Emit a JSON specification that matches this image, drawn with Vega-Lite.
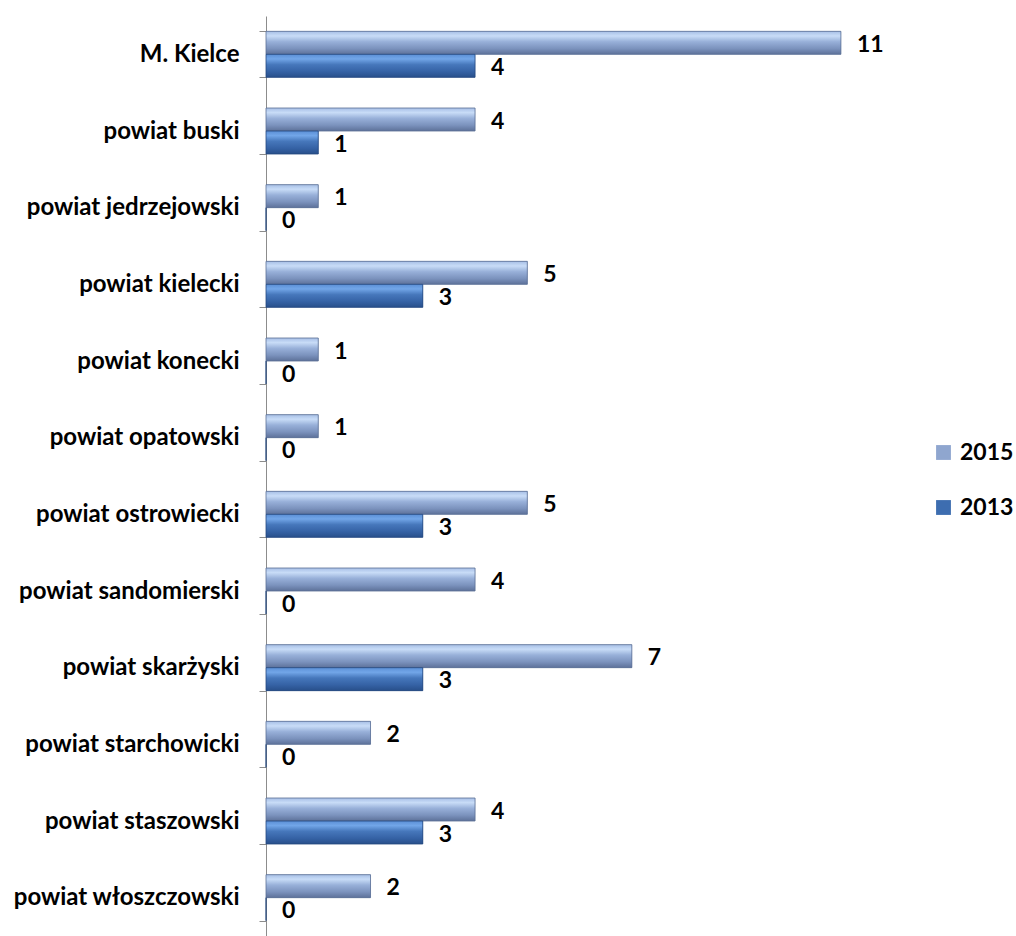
{
  "$schema": "https://vega.github.io/schema/vega-lite/v6.json",
  "autosize": "none",
  "width": 750,
  "height": 920,
  "padding": {"left": 266, "top": 16, "right": 0, "bottom": 0},
  "background": "white",
  "config": {"view": {"stroke": null}, "font": "Lato"},
  "data": {"values": [
    {"region": "M. Kielce", "year": "2015", "value": 11},
    {"region": "M. Kielce", "year": "2013", "value": 4},
    {"region": "powiat buski", "year": "2015", "value": 4},
    {"region": "powiat buski", "year": "2013", "value": 1},
    {"region": "powiat jedrzejowski", "year": "2015", "value": 1},
    {"region": "powiat jedrzejowski", "year": "2013", "value": 0},
    {"region": "powiat kielecki", "year": "2015", "value": 5},
    {"region": "powiat kielecki", "year": "2013", "value": 3},
    {"region": "powiat konecki", "year": "2015", "value": 1},
    {"region": "powiat konecki", "year": "2013", "value": 0},
    {"region": "powiat opatowski", "year": "2015", "value": 1},
    {"region": "powiat opatowski", "year": "2013", "value": 0},
    {"region": "powiat ostrowiecki", "year": "2015", "value": 5},
    {"region": "powiat ostrowiecki", "year": "2013", "value": 3},
    {"region": "powiat sandomierski", "year": "2015", "value": 4},
    {"region": "powiat sandomierski", "year": "2013", "value": 0},
    {"region": "powiat skarżyski", "year": "2015", "value": 7},
    {"region": "powiat skarżyski", "year": "2013", "value": 3},
    {"region": "powiat starchowicki", "year": "2015", "value": 2},
    {"region": "powiat starchowicki", "year": "2013", "value": 0},
    {"region": "powiat staszowski", "year": "2015", "value": 4},
    {"region": "powiat staszowski", "year": "2013", "value": 3},
    {"region": "powiat włoszczowski", "year": "2015", "value": 2},
    {"region": "powiat włoszczowski", "year": "2013", "value": 0}
  ]},
  "encoding": {
    "y": {
      "field": "region", "type": "nominal", "sort": null,
      "scale": {"paddingInner": 0.4, "paddingOuter": 0.2},
      "axis": {
        "title": null, "grid": false, "tickBand": "extent",
        "domainColor": "#8c8c8c", "tickColor": "#8c8c8c", "tickSize": 7,
        "labelFont": "Lato", "labelFontWeight": "bold", "labelFontSize": 24,
        "labelColor": "#000000", "labelPadding": 20, "labelLimit": 300
      }
    },
    "yOffset": {"field": "year", "type": "nominal", "scale": {"domain": ["2015", "2013"]}},
    "x": {"field": "value", "type": "quantitative", "scale": {"domain": [0, 14.35], "nice": false}, "axis": null}
  },
  "layer": [
    {
      "mark": {"type": "bar"},
      "encoding": {
        "color": {
          "field": "year", "type": "nominal",
          "scale": {"domain": ["2015", "2013"], "range": ["#8fa6cf", "#3d6db0"]},
          "legend": {
            "title": null, "orient": "none", "legendX": 666, "legendY": 425,
            "symbolType": "square", "symbolSize": 220, "symbolStrokeWidth": 0,
            "labelFont": "Lato", "labelFontWeight": "bold", "labelFontSize": 23,
            "labelColor": "#000000", "rowPadding": 31, "labelOffset": 5
          }
        }
      }
    },
    {
      "transform": [{"filter": "datum.year === '2015'"}],
      "mark": {
        "type": "bar", "stroke": "#5a6e94", "strokeWidth": 0.8,
        "fill": {"gradient": "linear", "x1": 0, "y1": 0, "x2": 0, "y2": 1,
          "stops": [
            {"offset": 0, "color": "#a7bfe6"},
            {"offset": 0.2, "color": "#c8dcf7"},
            {"offset": 0.45, "color": "#98b0d9"},
            {"offset": 0.75, "color": "#7b92bd"},
            {"offset": 1, "color": "#5d7199"}
          ]}
      }
    },
    {
      "transform": [{"filter": "datum.year === '2013'"}],
      "mark": {
        "type": "bar", "stroke": "#24477d", "strokeWidth": 0.8,
        "fill": {"gradient": "linear", "x1": 0, "y1": 0, "x2": 0, "y2": 1,
          "stops": [
            {"offset": 0, "color": "#5b8fd6"},
            {"offset": 0.2, "color": "#72a6e8"},
            {"offset": 0.45, "color": "#4677bb"},
            {"offset": 0.75, "color": "#3562a5"},
            {"offset": 1, "color": "#284f8a"}
          ]}
      }
    },
    {
      "mark": {"type": "text", "align": "left", "baseline": "middle", "dx": 16, "dy": 2,
        "font": "Lato", "fontWeight": "bold", "fontSize": 23, "color": "#000000"},
      "encoding": {"text": {"field": "value", "type": "quantitative"}}
    }
  ]
}
